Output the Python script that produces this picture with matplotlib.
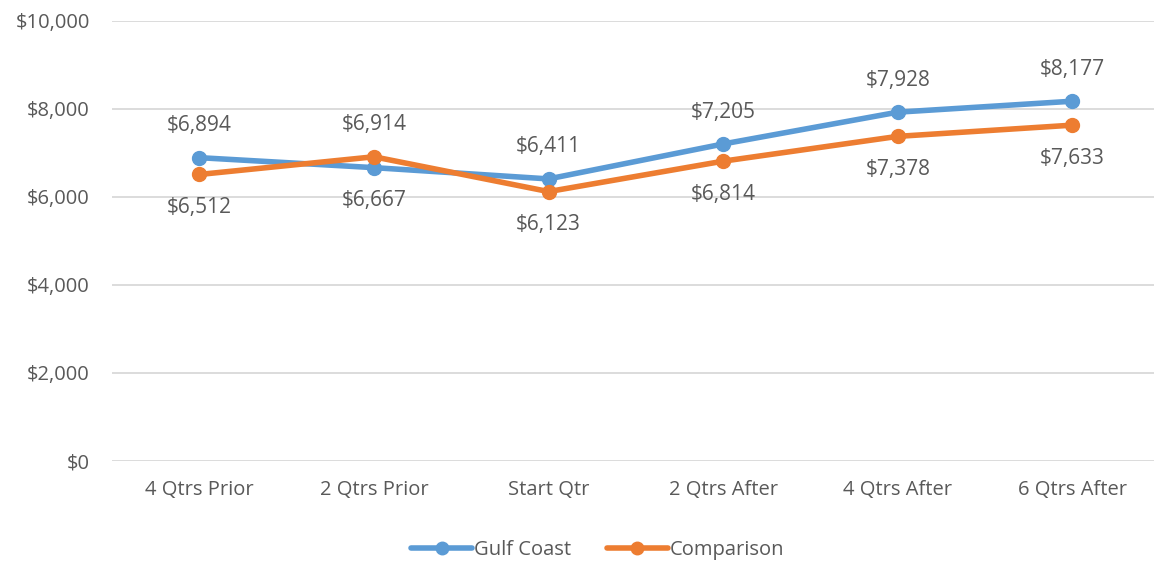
import matplotlib.pyplot as plt
from matplotlib.ticker import FuncFormatter

# Chart data
categories = ["4 Qtrs Prior", "2 Qtrs Prior", "Start Qtr", "2 Qtrs After", "4 Qtrs After", "6 Qtrs After"]
gulf_coast = [6894, 6667, 6411, 7205, 7928, 8177]
comparison = [6512, 6914, 6123, 6814, 7378, 7633]

# Label placement: True = above the point
gulf_above = [True, False, True, True, True, True]
comp_above = [False, True, False, False, False, False]

blue = "#5B9BD5"
orange = "#ED7D31"
grey = "#595959"

plt.rcParams['font.family'] = ['Open Sans', 'DejaVu Sans']

# Creating the figure
fig = plt.figure(figsize=(11.54, 5.63), dpi=100)
ax = fig.add_axes([0.0971, 0.1812, 0.9078, 0.7815])

x = list(range(len(categories)))
ax.plot(x, gulf_coast, color=blue, lw=4, marker="o", ms=10, label="Gulf Coast", solid_capstyle="round")
ax.plot(x, comparison, color=orange, lw=4, marker="o", ms=10, label="Comparison", solid_capstyle="round")

# Data labels
for xi, v, up in zip(x, gulf_coast, gulf_above):
    ax.annotate("${:,}".format(v), (xi, v), xytext=(0, 23 if up else -24), textcoords="offset points",
                ha="center", va="center", fontsize=15, color=grey)
for xi, v, up in zip(x, comparison, comp_above):
    ax.annotate("${:,}".format(v), (xi, v), xytext=(0, 23 if up else -24), textcoords="offset points",
                ha="center", va="center", fontsize=15, color=grey)

# Customizing axis
ax.set_xlim(-0.5, len(categories) - 0.5)
ax.set_ylim(0, 10000)
ax.set_yticks(range(0, 10001, 2000))
ax.yaxis.set_major_formatter(FuncFormatter(lambda v, p: "${:,.0f}".format(v)))
ax.set_xticks(x)
ax.set_xticklabels(categories)
ax.tick_params(axis="both", length=0, labelsize=14.5, colors=grey)
ax.tick_params(axis="x", pad=14)
ax.tick_params(axis="y", pad=16)
ax.grid(axis="y", color="#D9D9D9", lw=1.3)
ax.set_axisbelow(True)
for s in ax.spines.values():
    s.set_visible(False)

leg = fig.legend(loc="center", bbox_to_anchor=(0.518, 0.023), ncol=2, frameon=False,
                 fontsize=14.5, handlelength=3.0, handletextpad=0.1, columnspacing=1.8,
                 markerscale=0.9)
for t in leg.get_texts():
    t.set_color(grey)

# Saving the chart
plt.savefig("out.png")
plt.close()
